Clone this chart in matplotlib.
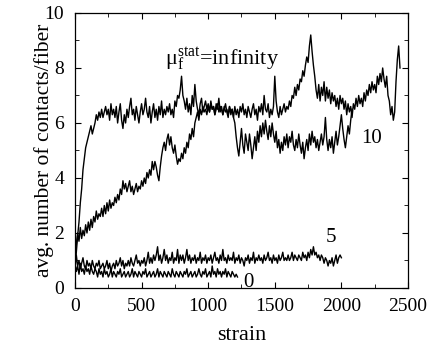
import numpy as np
import matplotlib
matplotlib.use("Agg")
import matplotlib.pyplot as plt
from matplotlib.ticker import MultipleLocator

plt.rcParams["font.family"] = ["Liberation Serif", "DejaVu Serif"]
plt.rcParams["mathtext.fontset"] = "custom"
plt.rcParams["mathtext.rm"] = "Liberation Serif"
plt.rcParams["mathtext.it"] = "Liberation Serif:italic"

# strain grids (step 10) for each run
strain_inf = np.arange(0, 2441, 10)
strain_10 = np.arange(0, 2081, 10)
strain_5 = np.arange(0, 2001, 10)
strain_0 = np.arange(0, 1221, 10)

# avg. number of contacts per fiber
contacts_inf = [
    0.8, 1.3, 1.9, 2.4, 3.1, 3.6, 4.3, 4.7, 5.1, 5.3,
    5.5, 5.7, 5.9, 5.6, 5.8, 6.0, 6.3, 6.1, 6.4, 6.2,
    6.5, 6.2, 6.4, 6.6, 6.3, 6.5, 6.1, 6.7, 6.3, 6.5,
    6.2, 6.6, 6.0, 6.4, 6.7, 6.1, 5.8, 6.3, 6.0, 6.5,
    6.2, 6.6, 6.9, 6.3, 6.5, 6.1, 6.6, 6.3, 6.0, 6.4,
    6.7, 6.3, 6.5, 6.9, 6.4, 6.2, 6.6, 6.0, 6.4, 6.7,
    6.2, 6.5, 6.1, 6.6, 6.3, 6.8, 6.2, 6.5, 6.3, 6.6,
    6.4, 6.7, 6.3, 6.5, 6.2, 6.8, 6.6, 7.0, 6.9, 7.2,
    7.7, 7.0, 6.8, 6.5, 6.9, 6.4, 6.7, 6.3, 7.0, 6.6,
    7.4, 6.8, 6.5, 6.3, 6.7, 6.9, 6.4, 6.6, 6.8, 6.5,
    6.7, 6.4, 6.8, 6.5, 6.6, 6.3, 6.7, 6.5, 6.9, 6.4,
    6.6, 6.3, 6.5, 6.7, 6.4, 6.2, 6.6, 6.3, 6.5, 6.2,
    6.6, 6.3, 6.5, 6.2, 6.6, 6.4, 6.7, 6.3, 6.5, 6.2,
    6.6, 6.4, 6.2, 6.5, 6.7, 6.3, 6.5, 6.1, 6.6, 6.4,
    6.7, 6.3, 7.0, 6.5, 6.4, 6.7, 6.2, 6.5, 6.3, 6.6,
    7.7, 6.8, 6.4, 6.2, 6.6, 6.3, 6.5, 6.7, 6.4, 6.6,
    6.5, 6.8, 6.6, 7.0, 6.9, 7.3, 7.0, 7.4, 7.2, 7.6,
    7.5, 7.9, 7.7, 8.1, 8.4, 8.2, 8.8, 9.2, 8.6, 8.1,
    7.7, 7.2, 6.9, 7.4, 6.8, 7.3, 7.0, 7.5, 6.8, 7.3,
    6.9, 7.2, 6.7, 7.1, 6.8, 7.0, 6.6, 6.9, 6.5, 7.0,
    6.7, 6.9, 6.5, 6.8, 6.3, 6.7, 6.4, 6.6, 6.2, 6.7,
    6.5, 6.9, 6.6, 7.0, 6.7, 6.9, 6.6, 7.1, 6.8, 7.2,
    7.0, 7.4, 7.1, 7.5, 7.2, 7.4, 7.1, 7.7, 7.4, 7.8,
    7.5, 8.0, 7.6, 7.3, 7.7, 7.0, 6.8, 6.3, 6.6, 6.1,
    6.4, 7.5, 8.3, 8.8, 8.0,
]
contacts_10 = [
    1.0, 1.6, 2.0, 1.7, 2.2, 1.8, 2.1, 1.9, 2.3, 2.0,
    2.4, 2.1, 2.5, 2.2, 2.6, 2.4, 2.8, 2.5, 2.7, 2.6,
    2.9, 2.6, 3.0, 2.7, 3.1, 2.8, 3.2, 2.9, 3.1, 3.0,
    3.3, 3.1, 3.4, 3.2, 3.6, 3.4, 3.9, 3.6, 3.8, 3.5,
    3.7, 3.9, 3.5, 3.7, 3.4, 3.6, 3.8, 3.5, 3.7, 3.6,
    3.9, 3.7, 4.0, 3.8, 4.2, 4.0, 4.3, 4.1, 4.6, 4.3,
    4.6, 4.4, 4.1, 3.9, 4.4, 4.8, 5.1, 5.3, 5.0, 5.4,
    5.6, 5.2, 5.5, 5.1, 4.9, 5.2, 4.8, 4.5, 4.7, 4.6,
    4.9, 4.7, 5.1, 4.9, 5.3, 5.1, 5.6, 5.4, 5.8, 5.5,
    6.0, 6.2, 6.4, 6.1, 6.5, 6.3, 6.6, 6.4, 6.5, 6.3,
    6.6, 6.4, 6.7, 6.5, 6.6, 6.3, 6.5, 6.7, 6.4, 6.6,
    6.5, 6.3, 6.6, 6.4, 6.5, 6.3, 6.6, 6.4, 6.5, 6.2,
    6.0, 5.5, 5.1, 4.8, 5.3, 5.8, 5.2, 4.9, 5.6, 5.3,
    5.0, 5.6, 5.2, 4.7, 5.1, 5.5, 5.0, 5.7, 5.3, 5.9,
    5.5, 6.0, 5.6, 6.1, 5.7, 5.4, 5.9, 5.5, 6.0, 5.6,
    5.3, 5.7, 5.1, 5.4, 4.9, 5.3, 5.0, 5.5, 5.2, 5.6,
    5.1, 5.5, 5.3, 5.7, 5.2, 5.0, 5.4, 5.1, 5.6, 5.2,
    4.9, 5.3, 4.7, 5.1, 5.4, 5.0, 5.6, 5.2, 5.7, 5.3,
    5.5, 5.1, 5.4, 5.0, 5.3, 5.6, 5.2, 5.5, 6.2, 5.4,
    5.0, 5.4, 5.1, 5.5, 4.9, 5.3, 5.7, 5.2, 5.5, 5.9,
    6.3, 5.8, 5.4, 5.1, 5.5, 5.9, 5.6, 6.1, 6.5,
]
contacts_5 = [
    0.7, 1.2, 0.8, 1.0, 0.7, 0.9, 1.1, 0.8, 0.7, 1.0,
    0.8, 0.9, 0.7, 1.0, 0.8, 0.7, 0.9, 0.8, 1.0, 0.7,
    0.8, 0.9, 0.7, 0.8, 1.0, 0.7, 0.9, 0.6, 0.8, 0.9,
    0.7, 1.0, 0.8, 0.9, 1.1, 0.8, 1.0, 0.7, 0.9, 0.8,
    1.0, 0.8, 1.1, 0.9, 0.8, 1.0, 1.2, 0.9, 1.0, 0.8,
    1.0, 0.9, 1.1, 0.8, 1.0, 1.3, 0.9, 1.1, 0.9, 1.2,
    1.0, 1.2, 1.5, 1.0, 1.2, 0.9, 1.1, 1.4, 1.0, 1.2,
    0.9, 1.1, 1.0, 1.3, 0.9, 1.1, 1.0, 1.4, 0.9, 1.2,
    1.0, 1.2, 0.9, 1.1, 1.4, 1.0, 1.2, 0.9, 1.1, 1.0,
    1.2, 0.9, 1.1, 1.0, 1.3, 0.9, 1.1, 1.0, 1.2, 0.9,
    1.1, 1.0, 1.2, 0.9, 1.1, 1.3, 1.0, 1.1, 0.9, 1.2,
    1.0, 1.4, 1.0, 1.1, 0.9, 1.2, 1.0, 1.1, 1.0, 1.3,
    0.9, 1.1, 1.0, 1.2, 0.9, 1.1, 1.0, 0.8, 1.1, 1.0,
    1.2, 0.9, 1.1, 1.0, 1.3, 0.9, 1.1, 1.0, 1.2, 1.0,
    1.1, 0.9, 1.2, 1.0, 1.1, 1.3, 1.0, 1.1, 0.9, 1.2,
    1.0, 1.1, 0.9, 1.2, 1.0, 1.1, 1.3, 1.0, 1.1, 1.0,
    1.2, 1.0, 1.1, 1.3, 1.0, 1.2, 1.1, 1.0, 1.2, 1.1,
    1.0, 1.3, 1.1, 1.2, 1.0, 1.3, 1.1, 1.4, 1.2, 1.5,
    1.2, 1.3, 1.1, 1.2, 1.0, 1.2, 1.1, 0.9, 1.1, 1.0,
    0.8, 1.0, 0.9, 1.1, 0.8, 1.0, 1.2, 0.9, 1.1, 1.2,
    1.1,
]
contacts_0 = [
    0.9, 0.6, 0.8, 0.5, 0.9, 0.6, 0.7, 0.5, 0.8, 0.6,
    0.7, 0.5, 0.8, 0.6, 0.5, 0.7, 0.6, 0.4, 0.7, 0.5,
    0.6, 0.4, 0.7, 0.5, 0.6, 0.4, 0.5, 0.7, 0.4, 0.6,
    0.5, 0.4, 0.6, 0.5, 0.7, 0.4, 0.5, 0.6, 0.4, 0.5,
    0.6, 0.4, 0.5, 0.7, 0.4, 0.6, 0.5, 0.4, 0.6, 0.5,
    0.4, 0.6, 0.5, 0.7, 0.4, 0.5, 0.6, 0.4, 0.5, 0.6,
    0.4, 0.5, 0.7, 0.4, 0.6, 0.5, 0.4, 0.6, 0.5, 0.4,
    0.6, 0.5, 0.4, 0.7, 0.5, 0.4, 0.6, 0.5, 0.4, 0.6,
    0.5, 0.4, 0.6, 0.5, 0.7, 0.4, 0.5, 0.6, 0.4, 0.5,
    0.6, 0.4, 0.5, 0.7, 0.5, 0.4, 0.6, 0.5, 0.7, 0.4,
    0.5, 0.6, 0.4, 0.8, 0.5, 0.6, 0.4, 0.7, 0.5, 0.6,
    0.4, 0.6, 0.5, 0.7, 0.4, 0.6, 0.5, 0.4, 0.6, 0.5,
    0.4, 0.5, 0.4,
]

fig = plt.figure(figsize=(4.30, 3.51), dpi=100)
ax = fig.add_axes([0.1744, 0.1795, 0.7744, 0.7835])

for x, y in [(strain_inf, contacts_inf), (strain_10, contacts_10),
             (strain_5, contacts_5), (strain_0, contacts_0)]:
    ax.plot(x, y, color="black", lw=1.0)

ax.set_xlim(0, 2500)
ax.set_ylim(0, 10)
ax.xaxis.set_major_locator(MultipleLocator(500))
ax.xaxis.set_minor_locator(MultipleLocator(250))
ax.yaxis.set_major_locator(MultipleLocator(2))
ax.yaxis.set_minor_locator(MultipleLocator(1))
ax.tick_params(which="both", direction="in", top=True, right=True, labelsize=14)
ax.tick_params(axis="x", pad=7)
ax.tick_params(axis="y", pad=8)
ax.tick_params(which="major", length=4)
ax.tick_params(which="minor", length=3)
for s in ax.spines.values():
    s.set_linewidth(0.9)

ax.set_xlabel("strain", fontsize=16)
ax.set_ylabel("avg. number of contacts/fiber", fontsize=15.5)
ax.xaxis.set_label_coords(0.5, -0.14)
ax.yaxis.set_label_coords(-0.062, 0.5)

# curve labels
ax.text(676, 8.1, r"$\mathrm{μ_f^{stat}}$=infinity", fontsize=16, va="baseline")
ax.text(2230, 5.45, "10", fontsize=15, ha="center", va="center")
ax.text(1925, 1.85, "5", fontsize=15, ha="center", va="center")
ax.text(1305, 0.2, "0", fontsize=15, ha="center", va="center")

fig.savefig("out.png", dpi=100)
